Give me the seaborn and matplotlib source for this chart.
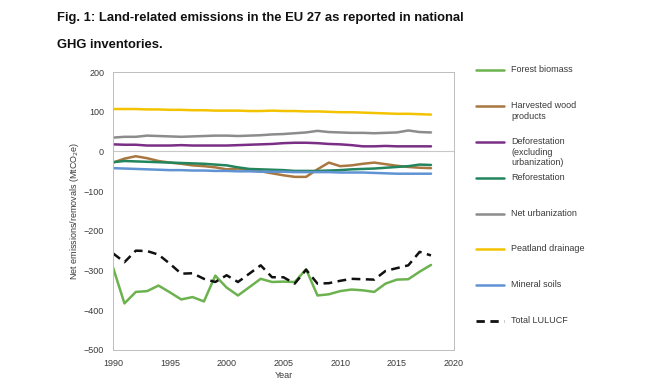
import pandas as pd
import matplotlib.pyplot as plt
import seaborn as sns
from matplotlib.lines import Line2D

# Data (MtCO2e), 1990-2018
years = list(range(1990, 2019))
forest_biomass = [-293, -383, -354, -352, -338, -355, -373, -367, -378, -313, -343, -363, -342, -321,
                  -329, -328, -329, -297, -363, -360, -352, -348, -350, -354, -333, -323, -322, -303, -286]
harvested_wood = [-28, -18, -12, -17, -24, -28, -31, -35, -37, -40, -45, -43, -47, -50, -55, -60, -64,
                  -64, -45, -28, -37, -35, -31, -28, -32, -36, -39, -41, -42]
deforestation = [18, 17, 17, 15, 15, 15, 16, 15, 15, 15, 15, 16, 17, 18, 19, 21, 22, 22, 21, 19, 18, 16,
                 13, 13, 14, 13, 13, 13, 13]
reforestation = [-27, -24, -25, -26, -27, -28, -29, -30, -31, -33, -35, -40, -44, -45, -46, -47, -49, -49,
                 -49, -48, -47, -45, -44, -43, -41, -39, -37, -33, -34]
net_urbanization = [35, 37, 37, 40, 39, 38, 37, 38, 39, 40, 40, 39, 40, 41, 43, 44, 46, 48, 52, 49, 48, 47,
                    47, 46, 47, 48, 53, 49, 48]
peatland_drainage = [107, 107, 107, 106, 106, 105, 105, 104, 104, 103, 103, 103, 102, 102, 103, 102, 102,
                     101, 101, 100, 99, 99, 98, 97, 96, 95, 95, 94, 93]
mineral_soils = [-42, -43, -44, -45, -46, -47, -47, -48, -48, -49, -49, -50, -50, -51, -51, -51, -52, -52,
                 -52, -52, -53, -53, -53, -54, -55, -56, -56, -56, -56]
total_lulucf = [-257, -279, -250, -251, -260, -283, -308, -307, -321, -329, -312, -329, -308, -287, -317,
                -317, -333, -298, -333, -332, -326, -321, -322, -323, -301, -294, -287, -253, -262]

labels = ["Forest biomass", "Harvested wood\nproducts", "Deforestation\n(excluding\nurbanization)",
          "Reforestation", "Net urbanization", "Peatland drainage", "Mineral soils", "Total LULUCF"]
colors = ["#6cb24f", "#a9773f", "#7a2e86", "#23855d", "#8c8c8c", "#f4c300", "#5f93d3", "#111111"]
series = [forest_biomass, harvested_wood, deforestation, reforestation, net_urbanization,
          peatland_drainage, mineral_soils, total_lulucf]

df = pd.DataFrame({"Year": years})
for lab, vals in zip(labels, series):
    df[lab] = vals
long = df.melt(id_vars="Year", var_name="series", value_name="value")

sns.set_style("white")
plt.rcParams["font.family"] = ["Liberation Sans", "DejaVu Sans"]

fig = plt.figure(figsize=(6.5, 3.9), dpi=100)
ax = fig.add_axes([0.174, 0.103, 0.524, 0.712])

ax.axhline(0, color="#c8c8c8", lw=0.8, zorder=0)
for lab, col in zip(labels, colors):
    sub = long[long["series"] == lab]
    dashed = lab == "Total LULUCF"
    sns.lineplot(data=sub, x="Year", y="value", color=col, lw=1.8, ax=ax,
                 linestyle=(0, (3.5, 2.2)) if dashed else "-", legend=False)

ax.set_xlim(1990, 2020)
ax.set_ylim(-500, 200)
ax.set_xticks(range(1990, 2021, 5))
ax.set_yticks(range(-500, 201, 100))
ax.set_yticklabels(["\u2212500", "\u2212400", "\u2212300", "\u2212200", "\u2212100", "0", "100", "200"])
ax.tick_params(labelsize=6.5, colors="#3a3a3a", length=3, width=0.6, direction="out", color="#aaaaaa")
ax.set_xlabel("Year", fontsize=6.5, color="#3a3a3a", labelpad=2)
ax.set_ylabel("Net emissions/removals (MtCO$_2$e)", fontsize=6.5, color="#3a3a3a", labelpad=2)
for s in ax.spines.values():
    s.set_color("#bdbdbd")
    s.set_linewidth(0.7)

# legend drawn as a column on the right, handle aligned with first text line
W, H = 650, 390
for i, (lab, col) in enumerate(zip(labels, colors)):
    y = 1 - (70 + i * 35.9) / H
    dashed = lab == "Total LULUCF"
    fig.add_artist(Line2D([476 / W, 504 / W], [y, y], color=col, lw=1.8 if not dashed else 2.0,
                          linestyle=(0, (3, 2)) if dashed else "-", transform=fig.transFigure))
    fig.text(511 / W, y + 5 / H, lab, fontsize=6.5, color="#3a3a3a", va="top", ha="left",
             linespacing=1.25)

title_font = ["Liberation Sans", "DejaVu Sans"]
fig.text(57 / W, 1 - 18 / H, "Fig. 1: Land-related emissions in the EU 27 as reported in national",
         fontsize=9.4, fontweight="bold", family=title_font, va="center", ha="left", color="#111111")
fig.text(57 / W, 1 - 45 / H, "GHG inventories.", fontsize=9.4, fontweight="bold", family=title_font,
         va="center", ha="left", color="#111111")

fig.savefig("out.png", dpi=100)
